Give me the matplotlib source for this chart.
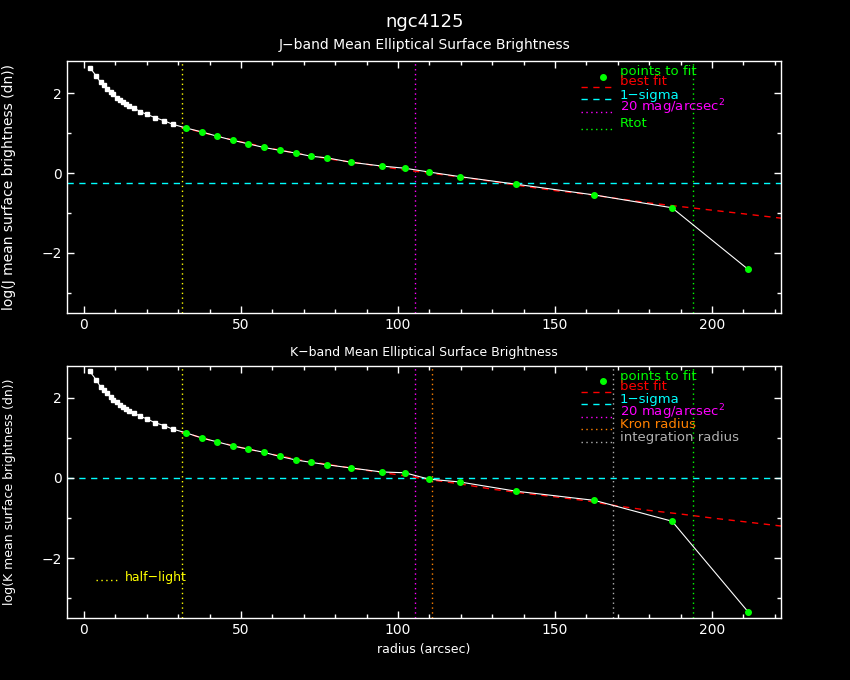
import matplotlib
matplotlib.use("Agg")
import matplotlib.pyplot as plt
from matplotlib.ticker import MultipleLocator

# profile radii (arcsec), shared by both bands
radius = [1.9, 4.0, 5.3, 6.3, 7.4, 8.5, 9.4, 10.5, 11.6, 12.5, 13.5, 14.5, 16.0,
          17.8, 20.0, 22.6, 25.5, 28.3, 32.4, 37.5, 42.5, 47.4, 52.4, 57.3, 62.3,
          67.4, 72.3, 77.4, 85.0, 94.8, 102.2, 109.9, 119.7, 137.6, 162.6, 187.3, 211.5]
j_sb = [2.64, 2.42, 2.27, 2.20, 2.10, 2.02, 1.97, 1.89, 1.83, 1.77, 1.73, 1.68, 1.63,
        1.54, 1.47, 1.39, 1.31, 1.22, 1.13, 1.03, 0.92, 0.82, 0.73, 0.64, 0.57,
        0.50, 0.42, 0.38, 0.27, 0.175, 0.12, 0.025, -0.09, -0.28, -0.55, -0.87, -2.41]
k_sb = [2.66, 2.44, 2.27, 2.20, 2.11, 2.02, 1.95, 1.89, 1.83, 1.78, 1.72, 1.68, 1.63,
        1.54, 1.48, 1.38, 1.31, 1.22, 1.13, 1.00, 0.90, 0.80, 0.72, 0.64, 0.54,
        0.45, 0.39, 0.33, 0.25, 0.15, 0.13, -0.03, -0.10, -0.33, -0.56, -1.08, -3.34]
fit_start = 18  # first "point to fit"

# best-fit curves
fit_r = [31, 40, 50, 60, 70, 80, 90, 100, 110, 120, 130, 140, 150, 160, 170, 180,
         190, 200, 210, 222]
j_fit = [1.15, 0.97, 0.78, 0.61, 0.46, 0.33, 0.22, 0.10, 0.00, -0.10, -0.21, -0.33,
         -0.44, -0.53, -0.64, -0.75, -0.84, -0.93, -1.02, -1.13]
k_fit = [1.15, 0.95, 0.76, 0.59, 0.43, 0.31, 0.19, 0.08, -0.04, -0.15, -0.28, -0.38,
         -0.47, -0.57, -0.70, -0.81, -0.90, -1.00, -1.09, -1.20]

j_sigma = -0.25
k_sigma = 0.0
half_light = 31.3
r_20mag = 105.5
j_rtot = 194.0
k_kron = 110.9
k_int = 168.6
k_rtot = 194.0

orange = '#ff8000'
dotted = (0, (1, 2.5))
dashed = (0, (4.5, 4))

plt.rcParams.update({
    'figure.facecolor': 'black',
    'axes.facecolor': 'black',
    'axes.edgecolor': 'white',
    'axes.labelcolor': 'white',
    'xtick.color': 'white',
    'ytick.color': 'white',
    'text.color': 'white',
    'font.size': 10,
    'mathtext.default': 'regular',
})

fig = plt.figure(figsize=(8.5, 6.8), dpi=100)
ax1 = fig.add_axes([0.0788, 0.540, 0.840, 0.370])
ax2 = fig.add_axes([0.0788, 0.091, 0.840, 0.371])


def style_axes(ax):
    ax.set_xlim(-5.4, 222)
    ax.set_ylim(-3.5, 2.8)
    ax.xaxis.set_major_locator(MultipleLocator(50))
    ax.xaxis.set_minor_locator(MultipleLocator(10))
    ax.yaxis.set_major_locator(MultipleLocator(2))
    ax.yaxis.set_minor_locator(MultipleLocator(1))
    ax.tick_params(which='both', direction='in', top=True, right=True, width=1,
                   labelsize=10)
    ax.tick_params(which='major', length=5)
    ax.tick_params(which='minor', length=3)
    for s in ax.spines.values():
        s.set_linewidth(1)
    ax.yaxis.set_label_coords(-0.071, 0.5)


def draw_profile(ax, sb, fit, sigma):
    ax.plot(fit_r, fit, color='red', lw=1, ls=dashed, zorder=2)
    ax.plot(radius, sb, color='white', lw=0.8, zorder=3)
    ax.plot(radius[:fit_start], sb[:fit_start], 's', color='white', ms=3, zorder=4)
    ax.plot(radius[fit_start:], sb[fit_start:], 'o', color='#00ff00', ms=4,
            mec='#00ff00', zorder=5)
    ax.axhline(sigma, color='cyan', lw=1, ls=dashed, zorder=1)


def legend(ax, entries):
    # entries: (label, color, text_y, sample_y, linestyle)
    ax.plot([165.3], [2.41], 'o', color='#00ff00', ms=4, zorder=6, clip_on=False)
    for label, color, ty, sy, ls in entries:
        ax.text(170.7, ty, label, color=color, fontsize=9.5, va='center', ha='left',
                zorder=6)
        if ls is not None:
            ax.plot([158.3, 168.2], [sy, sy], color=color, lw=1, ls=ls, zorder=6)


# J band
style_axes(ax1)
draw_profile(ax1, j_sb, j_fit, j_sigma)
ax1.axvline(half_light, color='yellow', lw=1, ls=dotted, zorder=1)
ax1.axvline(r_20mag, color='magenta', lw=1, ls=dotted, zorder=1)
ax1.axvline(j_rtot, color='#00ff00', lw=1, ls=dotted, zorder=1)
ax1.set_ylabel('log(J mean surface brightness (dn))')
legend(ax1, [
    ('points to fit', '#00ff00', 2.53, None, None),
    ('best fit', 'red', 2.28, 2.16, dashed),
    ('1\u2212sigma', 'cyan', 1.95, 1.85, dashed),
    ('20 mag/arcsec$^2$', 'magenta', 1.65, 1.53, dotted),
    ('Rtot', '#00ff00', 1.23, 1.10, dotted),
])

# K band
style_axes(ax2)
draw_profile(ax2, k_sb, k_fit, k_sigma)
ax2.axvline(half_light, color='yellow', lw=1, ls=dotted, zorder=1)
ax2.axvline(r_20mag, color='magenta', lw=1, ls=dotted, zorder=1)
ax2.axvline(k_kron, color=orange, lw=1, ls=dotted, zorder=1)
ax2.axvline(k_int, color='#b0b0b0', lw=1, ls=dotted, zorder=1)
ax2.axvline(k_rtot, color='#00ff00', lw=1, ls=dotted, zorder=1)
ax2.set_ylabel('log(K mean surface brightness (dn))', fontsize=9)
ax2.set_xlabel('radius (arcsec)', fontsize=9)
legend(ax2, [
    ('points to fit', '#00ff00', 2.53, None, None),
    ('best fit', 'red', 2.28, 2.15, dashed),
    ('1\u2212sigma', 'cyan', 1.95, 1.85, dashed),
    ('20 mag/arcsec$^2$', 'magenta', 1.65, 1.53, dotted),
    ('Kron radius', orange, 1.33, 1.23, dotted),
    ('integration radius', '#b0b0b0', 1.00, 0.90, dotted),
])
ax2.plot([3.8, 10.5], [-2.55, -2.55], color='yellow', lw=1, ls=dotted)
ax2.text(13.1, -2.48, 'half\u2212light', color='yellow', fontsize=9, va='center')

fig.text(0.499, 1 - 22 / 680, 'ngc4125', ha='center', va='center', fontsize=13)
fig.text(0.499, 1 - 45 / 680, 'J\u2212band Mean Elliptical Surface Brightness',
         ha='center', va='center', fontsize=10)
fig.text(0.499, 1 - 352 / 680, 'K\u2212band Mean Elliptical Surface Brightness',
         ha='center', va='center', fontsize=9)

fig.savefig('out.png', dpi=100, facecolor='black')
